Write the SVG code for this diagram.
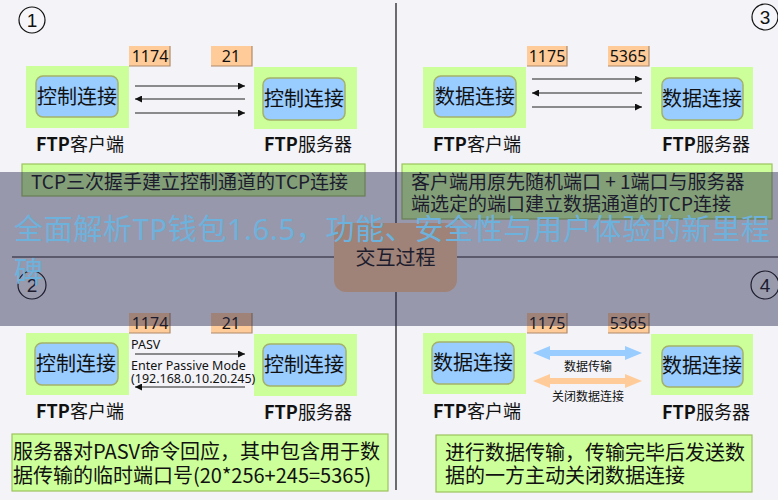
<svg xmlns="http://www.w3.org/2000/svg" width="778" height="500" viewBox="0 0 778 500">
<style>
.bg{fill:#f3f3f8}
.green{fill:#ccff99}
.blue{fill:#99ccff;stroke:#a2b26a;stroke-width:1.5}
.port{fill:#ffcc99}
.pshadow{stroke:#b08a6a;stroke-width:1.2;fill:none}
.desc{fill:#ccff99;stroke:#9cc45c;stroke-width:1.2}
.t{font-family:"Noto Sans CJK SC","Noto Sans",sans-serif;fill:#111}
.node{font-size:20px;text-anchor:middle}
.lbl{font-size:18px;text-anchor:middle}
.b{font-weight:bold}
.pt{font-family:"Noto Sans","Liberation Sans",sans-serif;font-size:16px;fill:#111;text-anchor:middle}
.small{font-family:"Noto Sans","Liberation Sans",sans-serif;font-size:12.5px;fill:#111}
.d{font-size:19px}
.d2{font-size:20px}
.ln{stroke:#222;stroke-width:1.2;fill:none}
.div{stroke:#111;stroke-width:1.2}
.circ{fill:#f6f6fa;stroke:#111;stroke-width:1.2}
.num{font-family:"Liberation Sans",sans-serif;font-size:19px;fill:#111;text-anchor:middle}
.wm{font-family:"Noto Sans","Noto Sans CJK SC",sans-serif;font-size:29px;fill:#6cb2dc}
</style>
<defs>
<marker id="ah" viewBox="0 0 10 10" refX="10" refY="5" markerWidth="8" markerHeight="7" markerUnits="userSpaceOnUse" orient="auto"><path d="M0,0 L10,5 L0,10 Z" fill="#111"/></marker>
</defs>
<rect class="bg" x="0" y="0" width="778" height="500"/>

<g id="dividers">
<line class="div" x1="396" y1="3" x2="396" y2="490"/>
<line class="div" x1="12" y1="257" x2="778" y2="257"/>
</g>

<g id="num1"><circle class="circ" cx="32" cy="20" r="13"/><text class="num" x="32" y="27">1</text></g>
<g id="num3"><circle class="circ" cx="765" cy="17" r="13"/><text class="num" x="765" y="24">3</text></g>
<g id="num2"><circle class="circ" cx="32" cy="285" r="14"/><text class="num" x="32" y="292">2</text></g>
<g id="num4"><circle class="circ" cx="765" cy="285" r="14"/><text class="num" x="765" y="292">4</text></g>

<!-- Panel 1 -->
<g id="p1-client">
<rect class="green" x="26" y="66" width="103" height="62"/>
<rect class="blue" x="36" y="76" width="82" height="41" rx="7"/>
<text class="t node" x="77" y="104">控制连接</text>
<text class="t lbl" x="80" y="151"><tspan class="b">FTP</tspan>客户端</text>
</g>
<g id="p1-server">
<rect class="green" x="254" y="67" width="103" height="62"/>
<rect class="blue" x="263" y="78" width="82" height="42" rx="7"/>
<text class="t node" x="304" y="106">控制连接</text>
<text class="t lbl" x="308" y="151"><tspan class="b">FTP</tspan>服务器</text>
</g>
<g id="p1-ports">
<rect class="port" x="129" y="46" width="41" height="20"/><path class="pshadow" d="M170,46 V66 H129"/>
<text class="pt" x="150" y="62">1174</text>
<rect class="port" x="211" y="46" width="41" height="20"/><path class="pshadow" d="M252,46 V66 H211"/>
<text class="pt" x="231" y="62">21</text>
</g>
<g id="p1-desc">
<rect class="desc" x="22" y="164" width="343" height="32"/>
<text class="t d" x="31" y="189">TCP三次握手建立控制通道的TCP连接</text>
</g>

<!-- Panel 3 -->
<g id="p3-client">
<rect class="green" x="423" y="67" width="103" height="61"/>
<rect class="blue" x="434" y="76" width="82" height="41" rx="7"/>
<text class="t node" x="475" y="104">数据连接</text>
<text class="t lbl" x="477" y="151"><tspan class="b">FTP</tspan>客户端</text>
</g>
<g id="p3-server">
<rect class="green" x="651" y="67" width="102" height="62"/>
<rect class="blue" x="662" y="78" width="81" height="42" rx="7"/>
<text class="t node" x="702" y="106">数据连接</text>
<text class="t lbl" x="706" y="151"><tspan class="b">FTP</tspan>服务器</text>
</g>
<g id="p3-ports">
<rect class="port" x="527" y="46" width="40" height="20"/><path class="pshadow" d="M567,46 V66 H527"/>
<text class="pt" x="547" y="62">1175</text>
<rect class="port" x="608" y="46" width="41" height="20"/><path class="pshadow" d="M649,46 V66 H608"/>
<text class="pt" x="628" y="62">5365</text>
</g>
<g id="p3-desc">
<rect class="desc" x="402" y="164" width="370" height="55"/>
<text class="t d" x="411" y="189">客户端用原先随机端口 + 1端口与服务器</text>
<text class="t d" x="411" y="211">端选定的端口建立数据通道的TCP连接</text>
</g>

<!-- Panel 2 -->
<g id="p2-client">
<rect class="green" x="26" y="333" width="103" height="62"/>
<rect class="blue" x="35" y="343" width="83" height="42" rx="7"/>
<text class="t node" x="76" y="371">控制连接</text>
<text class="t lbl" x="80" y="418"><tspan class="b">FTP</tspan>客户端</text>
</g>
<g id="p2-server">
<rect class="green" x="254" y="334" width="103" height="62"/>
<rect class="blue" x="263" y="344" width="83" height="42" rx="7"/>
<text class="t node" x="304" y="372">控制连接</text>
<text class="t lbl" x="308" y="419"><tspan class="b">FTP</tspan>服务器</text>
</g>
<g id="p2-ports">
<rect class="port" x="129" y="313" width="41" height="20"/><path class="pshadow" d="M170,313 V333 H129"/>
<text class="pt" x="150" y="329">1174</text>
<rect class="port" x="211" y="313" width="41" height="20"/><path class="pshadow" d="M252,313 V333 H211"/>
<text class="pt" x="231" y="329">21</text>
</g>
<g id="p2-desc">
<rect class="desc" x="12" y="434" width="376" height="57"/>
<text class="t d2" x="13" y="459">服务器对PASV命令回应，其中包含用于数</text>
<text class="t d2" x="13" y="483">据传输的临时端口号(20*256+245=5365)</text>
</g>

<!-- Panel 4 -->
<g id="p4-client">
<rect class="green" x="423" y="333" width="103" height="61"/>
<rect class="blue" x="432" y="342" width="82" height="42" rx="7"/>
<text class="t node" x="473" y="370">数据连接</text>
<text class="t lbl" x="477" y="418"><tspan class="b">FTP</tspan>客户端</text>
</g>
<g id="p4-server">
<rect class="green" x="651" y="334" width="102" height="61"/>
<rect class="blue" x="662" y="346" width="81" height="41" rx="7"/>
<text class="t node" x="702" y="373">数据连接</text>
<text class="t lbl" x="706" y="419"><tspan class="b">FTP</tspan>服务器</text>
</g>
<g id="p4-ports">
<rect class="port" x="527" y="313" width="40" height="20"/><path class="pshadow" d="M567,313 V333 H527"/>
<text class="pt" x="547" y="329">1175</text>
<rect class="port" x="608" y="313" width="41" height="20"/><path class="pshadow" d="M649,313 V333 H608"/>
<text class="pt" x="628" y="329">5365</text>
</g>
<g id="p4-desc">
<rect class="desc" x="436" y="435" width="316" height="57"/>
<text class="t d2" x="445" y="460">进行数据传输，传输完毕后发送数</text>
<text class="t d2" x="445" y="483">据的一方主动关闭数据连接</text>
</g>

<g id="connectors">
<line class="ln" x1="135" y1="86" x2="245" y2="86" marker-end="url(#ah)"/>
<line class="ln" x1="245" y1="99" x2="135" y2="99" marker-end="url(#ah)"/>
<line class="ln" x1="135" y1="113" x2="245" y2="113" marker-end="url(#ah)"/>
<line class="ln" x1="532" y1="79" x2="642" y2="79" marker-end="url(#ah)"/>
<line class="ln" x1="642" y1="93" x2="532" y2="93" marker-end="url(#ah)"/>
<line class="ln" x1="532" y1="107" x2="642" y2="107" marker-end="url(#ah)"/>
<line class="ln" x1="135" y1="354" x2="245" y2="354" marker-end="url(#ah)"/>
<line class="ln" x1="245" y1="387" x2="135" y2="387" marker-end="url(#ah)"/>
<text class="small" x="131" y="349">PASV</text>
<text class="small" x="131" y="370">Enter Passive Mode</text>
<text class="small" x="131" y="383">(192.168.0.10.20.245)</text>
<polygon fill="#99ccff" points="533,353 550,346 550,350 625,350 625,346 642,353 625,360 625,356 550,356 550,360"/>
<polygon fill="#ffcc99" points="533,381 550,374 550,378 625,378 625,374 642,381 625,388 625,384 550,384 550,388"/>
<text class="t" x="588" y="371" font-size="12" text-anchor="middle">数据传输</text>
<text class="t" x="588" y="401" font-size="12" text-anchor="middle">关闭数据连接</text>
</g>

<g id="center">
<rect x="334" y="223" width="123" height="69" rx="12" fill="#ffcc99"/>
<text class="t" x="395.5" y="265" font-size="20" text-anchor="middle">交互过程</text>
</g>

<rect x="0" y="172" width="778" height="154" fill="#2a2a50" fill-opacity="0.45"/>
<g id="watermark">
<text class="wm" x="14" y="240" textLength="756" lengthAdjust="spacing">全面解析TP钱包1.6.5，功能、安全性与用户体验的新里程</text>
<text class="wm" x="14" y="283">碑</text>
</g>
</svg>
